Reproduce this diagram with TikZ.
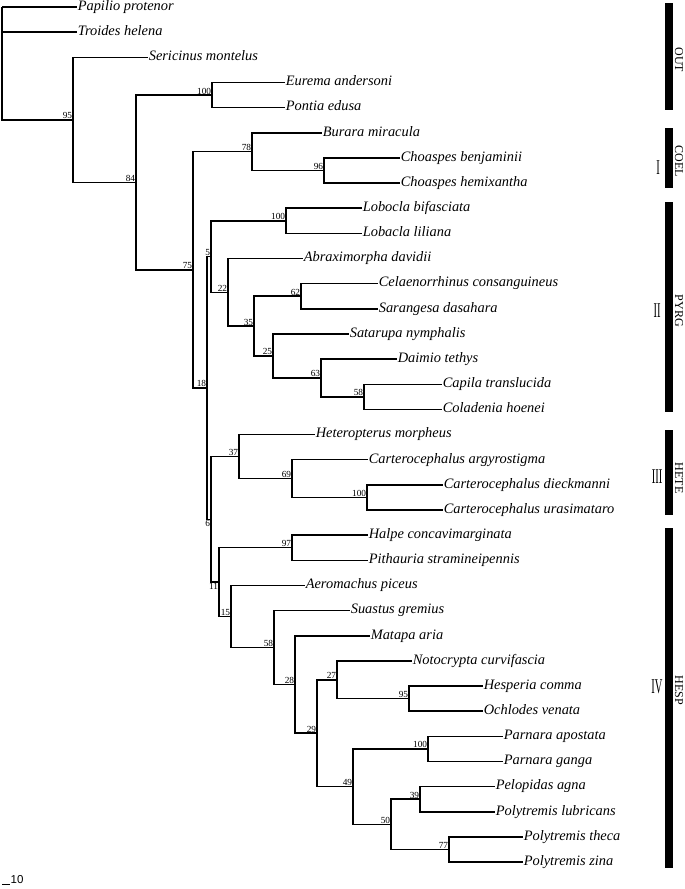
\documentclass[tikz,border=0pt]{standalone}
\usepackage{fontspec}
\setmainfont{Liberation Serif}
\newfontfamily\arialf{Liberation Sans}
\begin{document}
\begin{tikzpicture}[x=1pt,y=-1pt,
  branch/.style={line width=1.5pt},
  taxon/.style={anchor=west, inner xsep=0.6pt, inner ysep=0pt,
    font=\fontsize{14.4}{16}\selectfont\itshape, text height=9.6pt, text depth=3pt},
  bs/.style={font=\fontsize{9.3}{10}\selectfont, inner sep=0.7pt},
  bsup/.style={bs, anchor=south east},
  bsdown/.style={bs, anchor=north east},
  cladebar/.style={fill=black},
  clade/.style={rotate=-90, font=\fontsize{12}{13}\selectfont, inner sep=0pt},
  roman/.style={font=\fontsize{10.5}{11}\selectfont, yscale=2.0, inner sep=0pt}]
\useasboundingbox (0,0) rectangle (685,889);

% leaves
\node[taxon] (L1) at (77,7) {Papilio protenor};
\node[taxon] (L2) at (77,32.15) {Troides helena};
\node[taxon] (L3) at (148,57.3) {Sericinus montelus};
\node[taxon] (L4) at (285,82.45) {Eurema andersoni};
\node[taxon] (L5) at (285,107.6) {Pontia edusa};
\node[taxon] (L6) at (322,132.75) {Burara miracula};
\node[taxon] (L7) at (400,157.9) {Choaspes benjaminii};
\node[taxon] (L8) at (400,183.05) {Choaspes hemixantha};
\node[taxon] (L9) at (362,208.2) {Lobocla bifasciata};
\node[taxon] (L10) at (362,233.35) {Lobacla liliana};
\node[taxon] (L11) at (303,258.5) {Abraximorpha davidii};
\node[taxon] (L12) at (378,283.65) {Celaenorrhinus consanguineus};
\node[taxon] (L13) at (378,308.8) {Sarangesa dasahara};
\node[taxon] (L14) at (349,333.95) {Satarupa nymphalis};
\node[taxon] (L15) at (397,359.1) {Daimio tethys};
\node[taxon] (L16) at (442,384.25) {Capila translucida};
\node[taxon] (L17) at (442,409.4) {Coladenia hoenei};
\node[taxon] (L18) at (315,434.55) {Heteropterus morpheus};
\node[taxon] (L19) at (368,459.7) {Carterocephalus argyrostigma};
\node[taxon] (L20) at (443,484.85) {Carterocephalus dieckmanni};
\node[taxon] (L21) at (443,510) {Carterocephalus urasimataro};
\node[taxon] (L22) at (368,535.15) {Halpe concavimarginata};
\node[taxon] (L23) at (368,560.3) {Pithauria stramineipennis};
\node[taxon] (L24) at (305,585.45) {Aeromachus piceus};
\node[taxon] (L25) at (350,610.6) {Suastus gremius};
\node[taxon] (L26) at (370,635.75) {Matapa aria};
\node[taxon] (L27) at (412,660.9) {Notocrypta curvifascia};
\node[taxon] (L28) at (483,686.05) {Hesperia comma};
\node[taxon] (L29) at (483,711.2) {Ochlodes venata};
\node[taxon] (L30) at (503,736.35) {Parnara apostata};
\node[taxon] (L31) at (503,761.5) {Parnara ganga};
\node[taxon] (L32) at (495,786.65) {Pelopidas agna};
\node[taxon] (L33) at (495,811.8) {Polytremis lubricans};
\node[taxon] (L34) at (523,836.95) {Polytremis theca};
\node[taxon] (L35) at (523,862.1) {Polytremis zina};

% internal nodes
\coordinate (root) at (2,7);
\coordinate (n95) at (73,119.85);
\coordinate (n84) at (136,182.4);
\coordinate (n100a) at (212,95.03);
\coordinate (n75) at (193,269.76);
\coordinate (n78) at (252,151.61);
\coordinate (n96) at (324,170.48);
\coordinate (n18) at (207,387.9);
\coordinate (n5) at (211,256.54);
\coordinate (n100b) at (286,220.78);
\coordinate (n22) at (228,292.3);
\coordinate (n35) at (254,326.09);
\coordinate (n62) at (301,296.23);
\coordinate (n25) at (273,355.96);
\coordinate (n63) at (321,377.96);
\coordinate (n58a) at (364,396.83);
\coordinate (n6) at (211,519.33);
\coordinate (n37) at (239,456.56);
\coordinate (n69) at (292,478.56);
\coordinate (n100c) at (367,497.43);
\coordinate (n11) at (219,582.1);
\coordinate (n97) at (292,547.73);
\coordinate (n15) at (231,616.5);
\coordinate (n58b) at (274,647.54);
\coordinate (n28) at (295,684.48);
\coordinate (n29) at (317,733.2);
\coordinate (n27) at (337,679.76);
\coordinate (n95b) at (409,698.63);
\coordinate (n49) at (353,786.65);
\coordinate (n100d) at (428,748.93);
\coordinate (n50) at (391,824.38);
\coordinate (n39) at (420,799.23);
\coordinate (n77) at (449,849.53);

% branches
\foreach \p/\c in {root/L1, root/L2, root/n95, n95/L3, n95/n84,
  n84/n100a, n84/n75, n100a/L4, n100a/L5, n75/n78, n75/n18,
  n78/L6, n78/n96, n96/L7, n96/L8, n18/n5, n18/n6,
  n5/n100b, n5/n22, n100b/L9, n100b/L10, n22/L11, n22/n35,
  n35/n62, n35/n25, n62/L12, n62/L13, n25/L14, n25/n63,
  n63/L15, n63/n58a, n58a/L16, n58a/L17,
  n6/n37, n6/n11, n37/L18, n37/n69, n69/L19, n69/n100c,
  n100c/L20, n100c/L21, n11/n97, n11/n15, n97/L22, n97/L23,
  n15/L24, n15/n58b, n58b/L25, n58b/n28, n28/L26, n28/n29,
  n29/n27, n29/n49, n27/L27, n27/n95b, n95b/L28, n95b/L29,
  n49/n100d, n49/n50, n100d/L30, n100d/L31, n50/n39, n50/n77,
  n39/L32, n39/L33, n77/L34, n77/L35}
  \draw[branch] (\p) |- (\c);

% bootstrap values
\node[bsup] (b95) at (n95) {95};
\node[bsup] (b84) at (n84) {84};
\node[bsup] (b100a) at (n100a) {100};
\node[bsup] (b75) at (n75) {75};
\node[bsup] (b78) at (n78) {78};
\node[bsup] (b96) at (n96) {96};
\node[bsup] (b18) at (n18) {18};
\node[bsup] (b5) at (n5) {5};
\node[bsup] (b100b) at (n100b) {100};
\node[bsup] (b22) at (n22) {22};
\node[bsup] (b35) at (n35) {35};
\node[bsup] (b62) at (n62) {62};
\node[bsup] (b25) at (n25) {25};
\node[bsup] (b63) at (n63) {63};
\node[bsup] (b58a) at (n58a) {58};
\node[bsdown] (b6) at (n6) {6};
\node[bsup] (b37) at (n37) {37};
\node[bsup] (b69) at (n69) {69};
\node[bsup] (b100c) at (n100c) {100};
\node[bsdown] (b11) at (n11) {11};
\node[bsup] (b97) at (n97) {97};
\node[bsup] (b15) at (n15) {15};
\node[bsup] (b58b) at (n58b) {58};
\node[bsup] (b28) at (n28) {28};
\node[bsup] (b29) at (n29) {29};
\node[bsup] (b27) at (n27) {27};
\node[bsup] (b95b) at (n95b) {95};
\node[bsup] (b49) at (n49) {49};
\node[bsup] (b100d) at (n100d) {100};
\node[bsup] (b50) at (n50) {50};
\node[bsup] (b39) at (n39) {39};
\node[bsup] (b77) at (n77) {77};

% clade bars
\fill[cladebar] (665,3) rectangle (673,110);
\fill[cladebar] (665,128) rectangle (673,188);
\fill[cladebar] (665,202) rectangle (673,412);
\fill[cladebar] (665,430) rectangle (673,515);
\fill[cladebar] (665,528) rectangle (673,868);

\node[clade] (cOUT) at (679,60) {OUT};
\node[clade] (cCOEL) at (679,161) {COEL};
\node[clade] (cPYRG) at (679,311) {PYRG};
\node[clade] (cHETE) at (679,478) {HETE};
\node[clade] (cHESP) at (679,690) {HESP};

\node[roman] (r1) at (658,168) {I};
\node[roman] (r2) at (657,311) {II};
\node[roman] (r3) at (657,477) {III};
\node[roman] (r4) at (657,687) {IV};

% scale bar
\coordinate (sa) at (2,884.5);
\coordinate (sb) at (10,884.5);
\draw[line width=1.2pt] (sa) -- (sb);
\node[anchor=base west, inner sep=0pt, font=\arialf\fontsize{11.5}{12}\selectfont] (scale) at (10.5,883) {10};
\end{tikzpicture}
\end{document}
